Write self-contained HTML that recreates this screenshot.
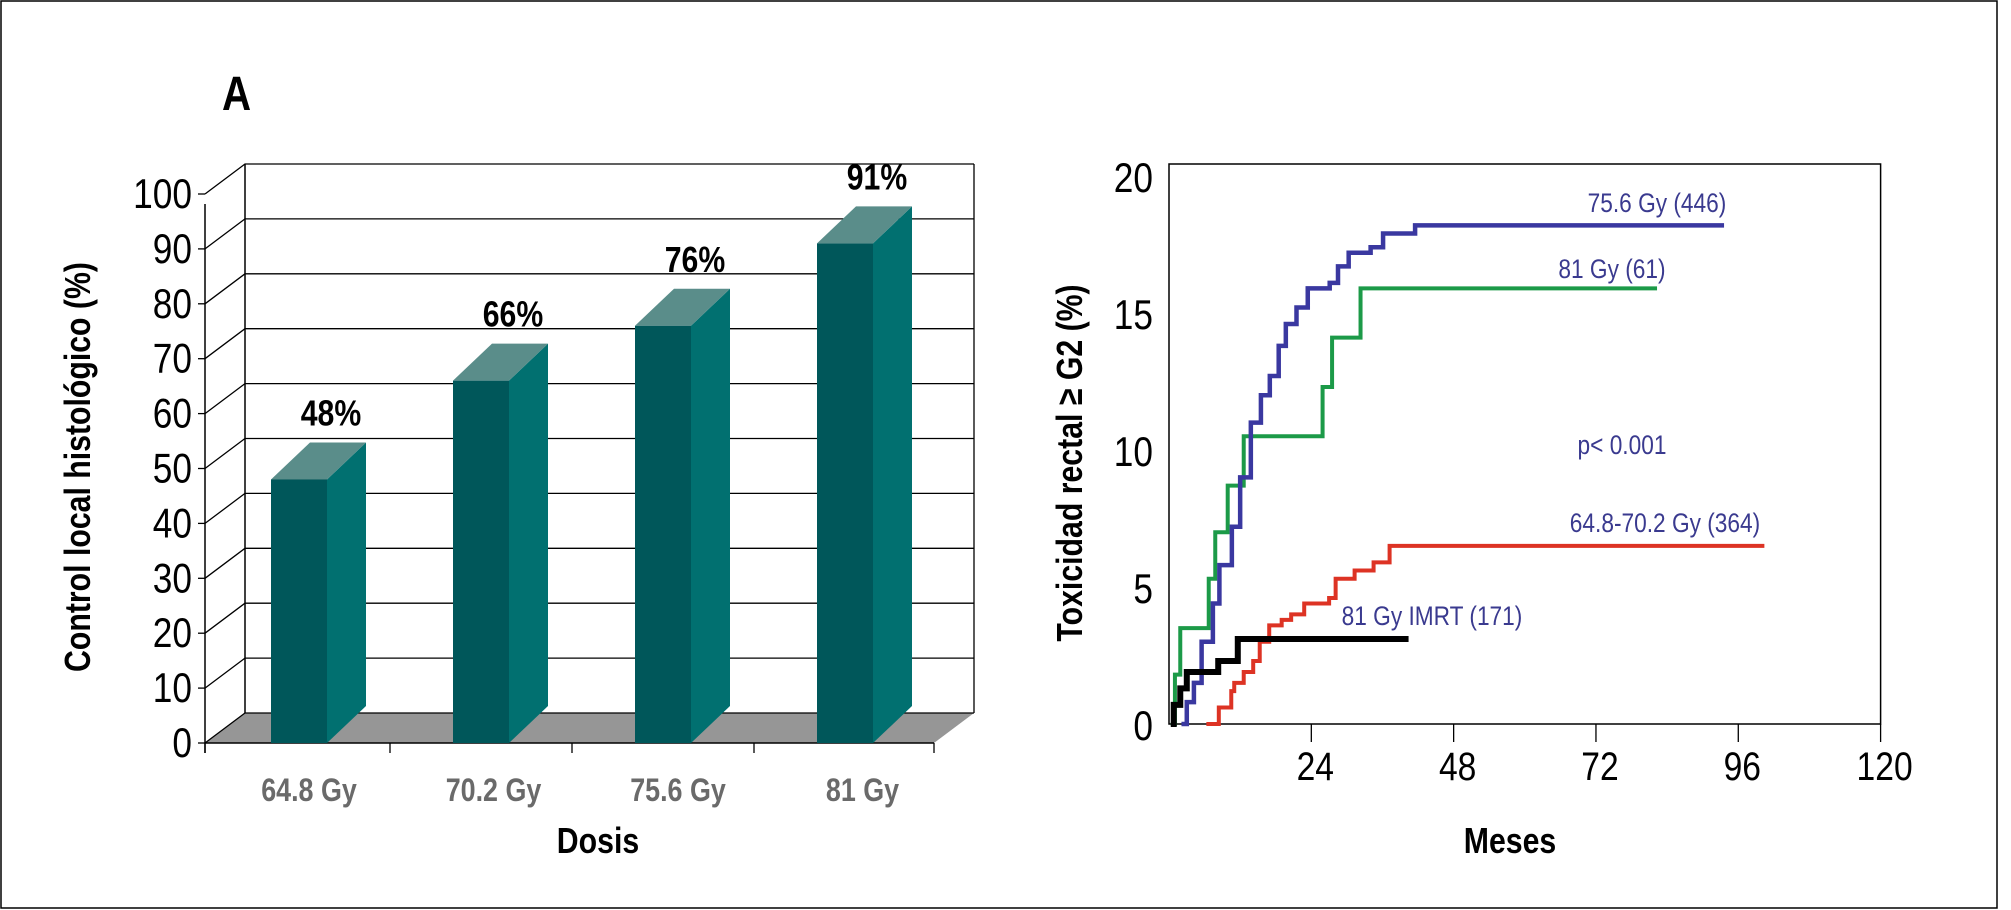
<!DOCTYPE html>
<html><head><meta charset="utf-8"><style>
html,body{margin:0;padding:0;background:#fff;}
svg{display:block;}
text{font-family:"Liberation Sans Narrow","Liberation Sans",sans-serif;}
</style></head><body>
<svg id="fig" width="2011" height="910" viewBox="0 0 2011 910" xmlns="http://www.w3.org/2000/svg">
<rect x="1" y="1" width="1996" height="907" fill="#fff" stroke="#000" stroke-width="1.5"/>
<text x="222" y="110" font-size="48" font-weight="bold">A</text>
<g id="left"></g>
<g id="right"></g>
</svg>
<script>
// ---- bar chart data ----
var barCategories = ["64.8 Gy", "70.2 Gy", "75.6 Gy", "81 Gy"];
var barValues = [48, 66, 76, 91];
var barLabels = ["48%", "66%", "76%", "91%"];
var barTicks = [0, 10, 20, 30, 40, 50, 60, 70, 80, 90, 100];

// ---- line chart data ----
var xTicks = [24, 48, 72, 96, 120];
var yTicks = [0, 5, 10, 15, 20];
var blueMonths = [2.1, 3, 4.2, 5.5, 7.4, 8.5, 10.6, 12, 13.8, 15.5, 17, 18.5, 19.7, 21.5, 23.4, 27.1, 28.5, 30.3, 34, 36.1, 41.5, 93.6];
var blueValues = [0, 0.8, 1.5, 3, 4.4, 5.8, 7.2, 9, 11, 12, 12.7, 13.8, 14.6, 15.2, 15.9, 16.1, 16.7, 17.2, 17.4, 17.9, 18.2, 18.2];
var greenMonths = [0.3, 1.0, 1.9, 6.7, 7.8, 9.9, 12.6, 25.9, 27.5, 32.3, 82.3];
var greenValues = [0, 1.8, 3.5, 5.3, 7.0, 8.7, 10.5, 12.3, 14.1, 15.9, 15.9];
var redMonths = [6.3, 8.4, 10.5, 11, 12.6, 14.2, 15.3, 16.9, 19, 20.6, 22.8, 27, 28.1, 31.3, 34.5, 37.2, 100.4];
var redValues = [0, 0.6, 1.2, 1.5, 1.9, 2.3, 3.0, 3.6, 3.8, 4.0, 4.4, 4.6, 5.3, 5.6, 5.9, 6.5, 6.5];
var blackMonths = [0.3, 0.8, 1.9, 3, 8.3, 11.6, 40.4];
var blackValues = [0, 0.7, 1.3, 1.9, 2.3, 3.1, 3.1];

var NS = "http://www.w3.org/2000/svg";
function mk(parent, tag, attrs, txt) {
  var e = document.createElementNS(NS, tag);
  for (var k in attrs) e.setAttribute(k, attrs[k]);
  if (txt !== undefined) e.textContent = txt;
  parent.appendChild(e);
  return e;
}

// ===== bar chart =====
(function () {
  var g = document.getElementById("left");
  var fx = 205, fy0 = 743, per = 5.49, dx = 40, dy = -30;
  function yv(v) { return fy0 - v * per; }
  var floor = mk(g, "polygon", {points: fx + "," + fy0 + " " + (fx + dx) + "," + (fy0 + dy) + " 974," + (fy0 + dy) + " 934," + fy0, fill: "#969696"});
  
  
  barTicks.forEach(function (t) {
    var y = yv(t);
    var gl = mk(g, "polyline", {points: fx + "," + y + " " + (fx + dx) + "," + (y + dy) + " 974," + (y + dy), fill: "none", stroke: "#000", "stroke-width": 1.3});
    
    
    mk(g, "line", {x1: fx - 7, y1: y, x2: fx, y2: y, stroke: "#000", "stroke-width": 1.3});
    var tl = mk(g, "text", {x: 192, y: y + 14, "font-size": 42, "text-anchor": "end"}, String(t));
    
    
  });
  mk(g, "line", {x1: fx, y1: fy0 + 10, x2: fx, y2: yv(100) + 10, stroke: "#000", "stroke-width": 1.5});
  mk(g, "line", {x1: fx + dx, y1: fy0 + dy, x2: fx + dx, y2: yv(100) + dy, stroke: "#000", "stroke-width": 1.5});
  mk(g, "line", {x1: 974, y1: fy0 + dy, x2: 974, y2: yv(100) + dy, stroke: "#000", "stroke-width": 1.3});
  mk(g, "line", {x1: fx, y1: fy0, x2: 934, y2: fy0, stroke: "#000", "stroke-width": 1.5});
  [205, 390, 572, 754, 934].forEach(function (x) {
    mk(g, "line", {x1: x, y1: fy0, x2: x, y2: fy0 + 10, stroke: "#000", "stroke-width": 1.3});
  });
  var slot = 182, w = 56, bdx = 39, bdy = -37;
  barValues.forEach(function (v, i) {
    var x = 271 + i * slot, top = yv(v);
    var bg = mk(g, "g", {});
    
    
    mk(bg, "polygon", {points: (x + w) + "," + fy0 + " " + (x + w + bdx) + "," + (fy0 + bdy) + " " + (x + w + bdx) + "," + (top + bdy) + " " + (x + w) + "," + top, fill: "#017070"});
    mk(bg, "polygon", {points: x + "," + top + " " + (x + bdx) + "," + (top + bdy) + " " + (x + w + bdx) + "," + (top + bdy) + " " + (x + w) + "," + top, fill: "#5a8d8a"});
    mk(bg, "rect", {x: x, y: top, width: w, height: fy0 - top, fill: "#00575a"});
    var lb = mk(g, "text", {x: x + 60, y: top - 54, "font-size": 36, "font-weight": "bold", "text-anchor": "middle"}, barLabels[i]);
    
    
    var cl = mk(g, "text", {x: 309 + i * 184.5, y: 801, "font-size": 32, "font-weight": "bold", fill: "#6a6a6a", "text-anchor": "middle"}, barCategories[i]);
    
    
  });
  var xt = mk(g, "text", {x: 598, y: 853, "font-size": 36, "font-weight": "bold", "text-anchor": "middle"}, "Dosis");
  
  
  var yt = mk(g, "text", {x: 0, y: 0, "font-size": 36, "font-weight": "bold", "text-anchor": "middle", transform: "translate(90,467) rotate(-90)"}, "Control local histológico (%)");
  
  
})();

// ===== line chart =====
(function () {
  var g = document.getElementById("right");
  function xm(m) { return 1169 + m * 5.93; }
  function yp(v) { return 724 - v * 27.4; }
  var fr = mk(g, "rect", {x: 1169, y: 164, width: xm(120) - 1169, height: 560, fill: "none", stroke: "#000", "stroke-width": 1.5});
  
  
  xTicks.forEach(function (t) {
    var x = xm(t);
    mk(g, "line", {x1: x, y1: 724, x2: x, y2: 742, stroke: "#000", "stroke-width": 1.3});
    var l = mk(g, "text", {x: x + 4, y: 780, "font-size": 40, "text-anchor": "middle"}, String(t));
    
    
  });
  yTicks.forEach(function (t) {
    var l = mk(g, "text", {x: 1153, y: yp(t) + 16, "font-size": 42, "text-anchor": "end"}, String(t));
    
    
  });
  function step(ms, vs) {
    var d = "M" + xm(ms[0]) + "," + yp(vs[0]);
    for (var i = 1; i < ms.length; i++) {
      d += " L" + xm(ms[i]) + "," + yp(vs[i - 1]) + " L" + xm(ms[i]) + "," + yp(vs[i]);
    }
    return d;
  }
  var series = [
    {m: redMonths, v: redValues, c: "#dd3324", w: 4, n: "series-64-8-70-2-gy"},
    {m: greenMonths, v: greenValues, c: "#1c9a48", w: 4, n: "series-81-gy"},
    {m: blueMonths, v: blueValues, c: "#3a38a0", w: 4.5, n: "series-75-6-gy"},
    {m: blackMonths, v: blackValues, c: "#000", w: 6, n: "series-81-gy-imrt"}
  ];
  series.forEach(function (s) {
    var p = mk(g, "path", {d: step(s.m, s.v), fill: "none", stroke: s.c, "stroke-width": s.w});
    
    
  });
  var ann = [["75.6 Gy (446)", 1657, 212], ["81 Gy (61)", 1612, 278], ["p< 0.001", 1622, 454], ["64.8-70.2 Gy (364)", 1665, 532], ["81 Gy IMRT (171)", 1432, 625]];
  ann.forEach(function (a) {
    var t = mk(g, "text", {x: a[1], y: a[2], "font-size": 27, fill: "#3a3a8f", "text-anchor": "middle"}, a[0]);
    
    
  });
  var xt = mk(g, "text", {x: 1510, y: 853, "font-size": 36, "font-weight": "bold", "text-anchor": "middle"}, "Meses");
  
  
  var yt = mk(g, "text", {x: 0, y: 0, "font-size": 36, "font-weight": "bold", "text-anchor": "middle", transform: "translate(1082,463) rotate(-90)"}, "Toxicidad rectal  ≥ G2 (%)");
  
  
})();

// condense all text to mimic the narrow typeface of the reference
(function () {
  var ts = document.querySelectorAll("#fig text");
  for (var i = 0; i < ts.length; i++) {
    var t = ts[i];
    var L = t.getComputedTextLength();
    if (L > 0) {
      t.setAttribute("textLength", (L * 0.84).toFixed(1));
      t.setAttribute("lengthAdjust", "spacingAndGlyphs");
    }
  }
})();
</script>
</body></html>
